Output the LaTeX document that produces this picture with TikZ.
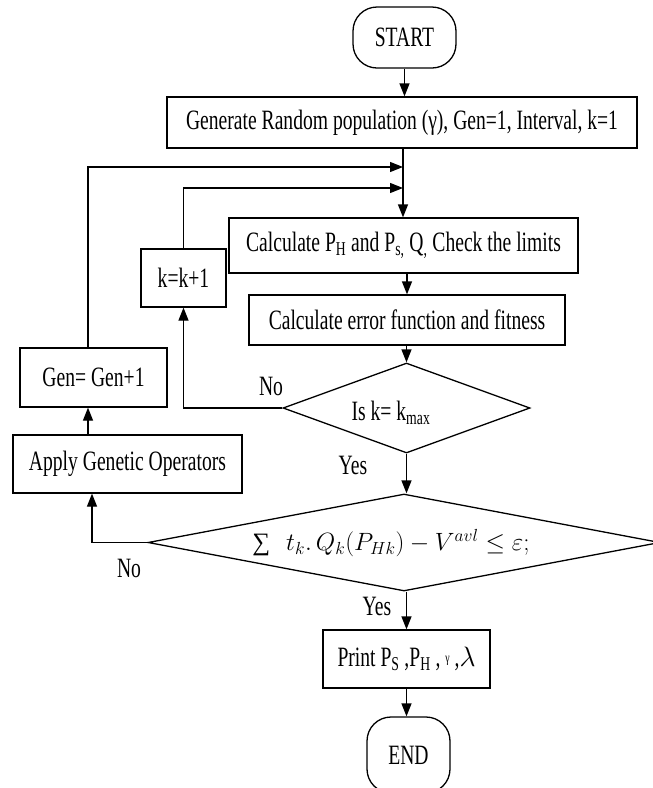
\RequirePackage{fix-cm}
\documentclass[tikz,border=0pt]{standalone}
\usepackage{amsmath}
\usepackage{fontspec}
\setmainfont{Liberation Serif}[FakeStretch=0.7]
\newfontfamily\plainserif{Liberation Serif}
\usepackage{graphicx}
\usetikzlibrary{arrows.meta,shapes.geometric}
\begin{document}
\begin{tikzpicture}[x=1pt,y=-1pt,
  box/.style={draw,line width=1.3pt,inner sep=0pt,align=center},
  term/.style={box,rounded corners=24pt},
  dia/.style={draw,line width=1.3pt,diamond,inner sep=0pt},
  txt/.style={inner sep=0pt},
  arr/.style={line width=1.3pt,-{Triangle[length=13pt,width=10pt]}},
  font=\fontsize{28}{32}\selectfont]
\clip (0,0) rectangle (653,788);
% nodes
\node[term,minimum width=103pt,minimum height=61pt] (start) at (404.5,37.5) {START};
\node[box,minimum width=470pt,minimum height=51pt] (gen) at (402,122.5) {Generate Random population (γ), Gen=1, Interval, k=1};
\node[box,minimum width=349pt,minimum height=55pt] (calc) at (403.5,245.5) {Calculate P\textsubscript{H} and P\textsubscript{s,} Q\textsubscript{,} Check the limits};
\node[box,minimum width=316pt,minimum height=50pt] (err) at (407,320) {Calculate error function and fitness};
\node[box,minimum width=85pt,minimum height=58pt] (kk) at (183.5,278) {k=k+1};
\node[box,minimum width=147pt,minimum height=59pt] (gg) at (93.5,377.5) {Gen= Gen+1};
\node[box,minimum width=229pt,minimum height=58pt] (ap) at (127.5,464) {Apply Genetic Operators};
\node[dia,minimum width=247pt,minimum height=90pt] (d1) at (406.5,408) {};
\node[txt] (q1) at (391,413) {Is k= k\textsubscript{max}};
\node[dia,minimum width=512pt,minimum height=97pt] (d2) at (404,542.5) {};
\node[txt,font=\fontsize{25}{30}\selectfont] (q2) at (391,543) {$\mbox{\plainserif ∑}\hspace{16pt}t_k.\,Q_k(P_{Hk}) - V^{avl} \le \varepsilon;$};
\node[box,minimum width=167pt,minimum height=58pt] (pr) at (406.5,659) {Print P\textsubscript{S} ,P\textsubscript{H} , \raisebox{4pt}{\fontsize{14}{14}\selectfont γ} ,$\lambda$};
\node[term,minimum width=83pt,minimum height=76pt] (end) at (408.5,755) {END};
% labels
\node[txt] (no1) at (271,386) {No};
\node[txt] (yes1) at (353,465) {Yes};
\node[txt] (no2) at (129,568) {No};
\node[txt] (yes2) at (377,606) {Yes};
% helper coordinates
\coordinate (m1) at (403,167);
\coordinate (m2) at (403,188);
\coordinate (xa) at (88,0);
\coordinate (xb) at (92,0);
% connectors
\draw[arr] (start.south) -- (start.south |- gen.north);
\draw[arr] (m1 |- gen.south) -- (m1 |- calc.north);
\draw[arr] (gg.north -| xa) |- (m1);
\draw[arr] (kk.north) |- (m2);
\draw[arr] (err.north |- calc.south) -- (err.north);
\draw[arr] (d1.north |- err.south) -- (d1.north);
\draw[arr] (d1.west) -| (kk.south);
\draw[arr] (d1.south) -- (d1.south |- d2.north);
\draw[arr] (d2.west) -| (ap.south -| xb);
\draw[arr] (ap.north -| xa) -- (gg.south -| xa);
\draw[arr] (pr.north |- d2.south) -- (pr.north);
\draw[arr] (pr.south) -- (pr.south |- end.north);
\end{tikzpicture}
\end{document}
